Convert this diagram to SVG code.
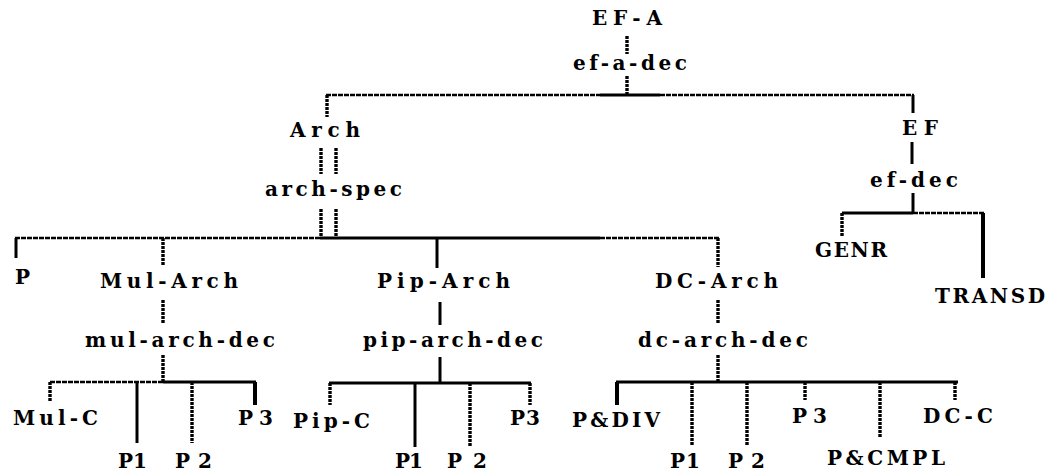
<svg xmlns="http://www.w3.org/2000/svg" width="1052" height="474" viewBox="0 0 1052 474">
<style>
  text { font-family: "DejaVu Serif", "Liberation Serif", serif; font-weight: bold; font-size: 20px; fill: #000; }
  .s { stroke: #000; stroke-width: 3; fill: none; }
  .t { stroke: #000; stroke-width: 4; fill: none; }
  .j { stroke: #000; stroke-width: 3.4; stroke-dasharray: 3 1; fill: none; }
  .d { stroke: #000; stroke-width: 2.4; stroke-dasharray: 5 1; fill: none; }
</style>
<rect width="1052" height="474" fill="#fff"/>
<g id="connectors">
  <line class="j" x1="627" y1="36" x2="627" y2="54"/>
  <line class="j" x1="627" y1="76" x2="627" y2="95"/>
  <line class="d" x1="326" y1="95" x2="600" y2="95"/>
  <line class="s" x1="600" y1="95" x2="660" y2="95"/>
  <line class="d" x1="660" y1="95" x2="914" y2="95"/>
  <line class="j" x1="327" y1="95" x2="327" y2="117"/>
  <line class="s" x1="913" y1="95" x2="913" y2="113"/>
  <line class="j" x1="321" y1="148" x2="321" y2="174"/>
  <line class="j" x1="336" y1="148" x2="336" y2="174"/>
  <line class="j" x1="321" y1="209" x2="321" y2="237"/>
  <line class="j" x1="336" y1="209" x2="336" y2="237"/>
  <line class="d" x1="15" y1="238" x2="320" y2="238"/>
  <line class="s" x1="320" y1="238" x2="600" y2="238"/>
  <line class="d" x1="600" y1="238" x2="719" y2="238"/>
  <line class="s" x1="16" y1="238" x2="16" y2="258"/>
  <line class="j" x1="163" y1="238" x2="163" y2="265"/>
  <line class="s" x1="437" y1="238" x2="437" y2="268"/>
  <line class="j" x1="718" y1="238" x2="718" y2="267"/>
  <line class="s" x1="912" y1="142" x2="912" y2="164"/>
  <line class="s" x1="913" y1="193" x2="913" y2="213"/>
  <line class="s" x1="842" y1="213" x2="913" y2="213"/>
  <line class="d" x1="913" y1="213" x2="985" y2="213"/>
  <line class="j" x1="842" y1="213" x2="842" y2="237"/>
  <line class="t" x1="983" y1="213" x2="983" y2="278"/>
  <line class="j" x1="163" y1="300" x2="163" y2="323"/>
  <line class="j" x1="163" y1="355" x2="163" y2="382"/>
  <line class="d" x1="50" y1="382" x2="163" y2="382"/>
  <line class="s" x1="163" y1="382" x2="256" y2="382"/>
  <line class="j" x1="50" y1="382" x2="50" y2="402"/>
  <line class="s" x1="137" y1="382" x2="137" y2="443"/>
  <line class="j" x1="192" y1="382" x2="192" y2="443"/>
  <line class="t" x1="255" y1="382" x2="255" y2="405"/>
  <line class="s" x1="440" y1="302" x2="440" y2="325"/>
  <line class="s" x1="440" y1="357" x2="440" y2="383"/>
  <line class="s" x1="329" y1="383" x2="531" y2="383"/>
  <line class="j" x1="330" y1="383" x2="330" y2="405"/>
  <line class="s" x1="415" y1="383" x2="415" y2="447"/>
  <line class="j" x1="470" y1="383" x2="470" y2="447"/>
  <line class="j" x1="530" y1="383" x2="530" y2="405"/>
  <line class="j" x1="718" y1="300" x2="718" y2="323"/>
  <line class="j" x1="718" y1="355" x2="718" y2="382"/>
  <line class="s" x1="616" y1="382" x2="958" y2="382"/>
  <line class="t" x1="617" y1="382" x2="617" y2="405"/>
  <line class="j" x1="692" y1="382" x2="692" y2="445"/>
  <line class="j" x1="747" y1="382" x2="747" y2="445"/>
  <line class="j" x1="805" y1="382" x2="805" y2="400"/>
  <line class="j" x1="880" y1="382" x2="880" y2="438"/>
  <line class="j" x1="955" y1="382" x2="955" y2="400"/>
</g>
<g id="n-efa"><text x="592" y="25" textLength="70" lengthAdjust="spacing">EF-A</text></g>
<g id="n-efadec"><text x="573" y="70" textLength="114" lengthAdjust="spacing">ef-a-dec</text></g>
<g id="n-arch"><text x="290" y="137" textLength="70" lengthAdjust="spacing">Arch</text></g>
<g id="n-ef"><text x="902" y="135" textLength="36" lengthAdjust="spacing">EF</text></g>
<g id="n-archspec"><text x="265" y="196" textLength="137" lengthAdjust="spacing">arch-spec</text></g>
<g id="n-efdec"><text x="870" y="187" textLength="88" lengthAdjust="spacing">ef-dec</text></g>
<g id="n-genr"><text x="815" y="257" textLength="72" lengthAdjust="spacing">GENR</text></g>
<g id="n-transd"><text x="935" y="303" textLength="110" lengthAdjust="spacing">TRANSD</text></g>
<g id="n-p"><text x="15" y="284">P</text></g>
<g id="n-mularch"><text x="100" y="288" textLength="138" lengthAdjust="spacing">Mul-Arch</text></g>
<g id="n-piparch"><text x="377" y="288" textLength="133" lengthAdjust="spacing">Pip-Arch</text></g>
<g id="n-dcarch"><text x="655" y="288" textLength="123" lengthAdjust="spacing">DC-Arch</text></g>
<g id="n-mularchdec"><text x="85" y="347" textLength="190" lengthAdjust="spacing">mul-arch-dec</text></g>
<g id="n-piparchdec"><text x="363" y="347" textLength="180" lengthAdjust="spacing">pip-arch-dec</text></g>
<g id="n-dcarchdec"><text x="638" y="347" textLength="170" lengthAdjust="spacing">dc-arch-dec</text></g>
<g id="n-mulc"><text x="13" y="425" textLength="85" lengthAdjust="spacing">Mul-C</text></g>
<g id="n-mulp1"><text x="118" y="468" textLength="29" lengthAdjust="spacing">P1</text></g>
<g id="n-mulp2"><text x="175" y="468" textLength="37" lengthAdjust="spacing">P2</text></g>
<g id="n-mulp3"><text x="238" y="425" textLength="35" lengthAdjust="spacing">P3</text></g>
<g id="n-pipc"><text x="293" y="428" textLength="77" lengthAdjust="spacing">Pip-C</text></g>
<g id="n-pipp1"><text x="395" y="468" textLength="28" lengthAdjust="spacing">P1</text></g>
<g id="n-pipp2"><text x="447" y="468" textLength="40" lengthAdjust="spacing">P2</text></g>
<g id="n-pipp3"><text x="510" y="425" textLength="30" lengthAdjust="spacing">P3</text></g>
<g id="n-pdiv"><text x="572" y="427" textLength="88" lengthAdjust="spacing">P&amp;DIV</text></g>
<g id="n-dcp1"><text x="670" y="468" textLength="30" lengthAdjust="spacing">P1</text></g>
<g id="n-dcp2"><text x="728" y="468" textLength="37" lengthAdjust="spacing">P2</text></g>
<g id="n-dcp3"><text x="792" y="423" textLength="35" lengthAdjust="spacing">P3</text></g>
<g id="n-pcmpl"><text x="827" y="465" textLength="118" lengthAdjust="spacing">P&amp;CMPL</text></g>
<g id="n-dcc"><text x="923" y="423" textLength="70" lengthAdjust="spacing">DC-C</text></g>
</svg>
